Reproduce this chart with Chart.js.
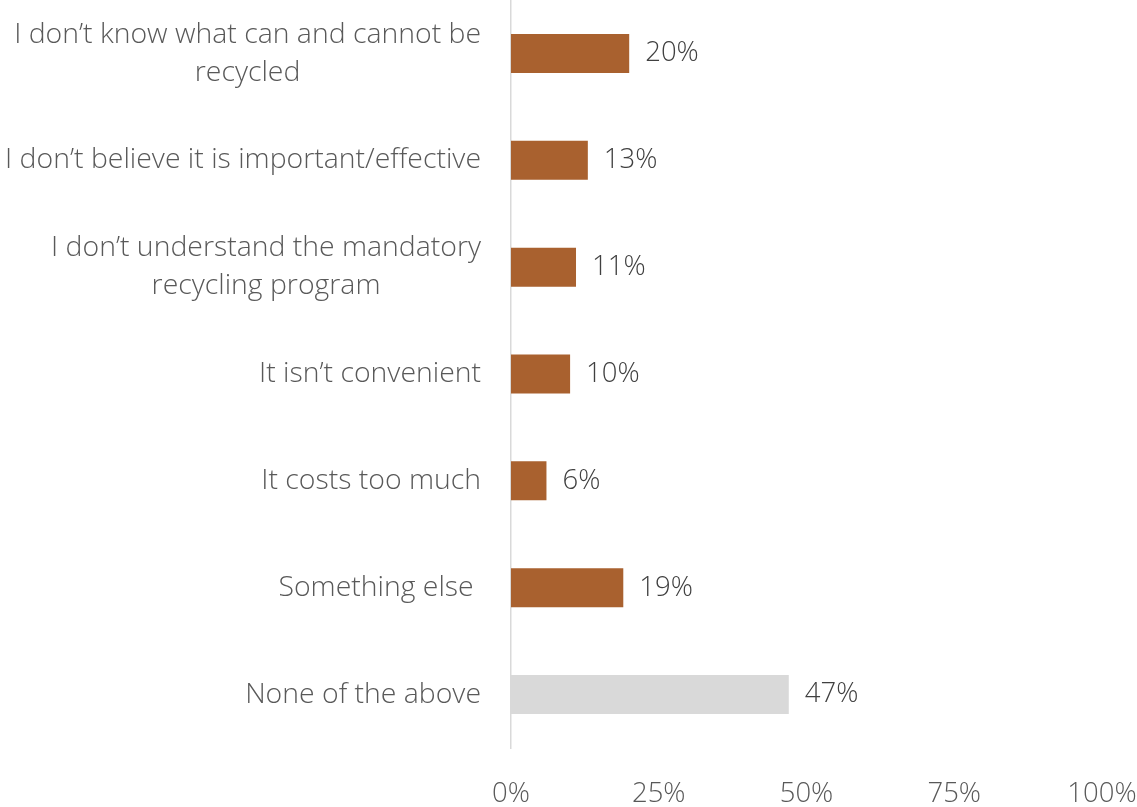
<!DOCTYPE html>
<html lang="en">
<head>
<meta charset="UTF-8">
<title>Reasons for not recycling</title>
<script src="https://cdn.jsdelivr.net/npm/chart.js"></script>
<style>
  html, body { margin: 0; padding: 0; background: #fff; }
  #wrap { width: 1137px; height: 807px; }
</style>
</head>
<body>
<div id="wrap"><canvas id="chart" width="1137" height="807"></canvas></div>
<script>
// chart data
const categories = [
  ['I don\u2019t know what can and cannot be', 'recycled'],
  ['I don\u2019t believe it is important/effective'],
  ['I don\u2019t understand the mandatory', 'recycling program'],
  ['It isn\u2019t convenient'],
  ['It costs too much'],
  ['Something else '],
  ['None of the above']
];
const percentValues = [20, 13, 11, 10, 6, 19, 47];
const barColors = ['#A9612F', '#A9612F', '#A9612F', '#A9612F', '#A9612F', '#A9612F', '#D9D9D9'];
const xTicks = [0, 25, 50, 75, 100];

const FONT = '"Open Sans", sans-serif';
const LABEL_SIZE = 28.4;
const NUM_SIZE = 27.5;
const TEXT_COLOR = '#595959';

// category labels, lines centred on each other like the original
const categoryLabels = {
  id: 'categoryLabels',
  afterDraw(chart) {
    const ctx = chart.ctx;
    const y = chart.scales.y;
    const rightEdge = chart.chartArea.left - 30;
    const lineH = 38;
    ctx.save();
    ctx.font = '300 ' + LABEL_SIZE + 'px ' + FONT;
    ctx.fillStyle = TEXT_COLOR;
    ctx.textBaseline = 'middle';
    ctx.textAlign = 'center';
    categories.forEach((lines, i) => {
      const maxW = Math.max(...lines.map(l => ctx.measureText(l).width));
      const cx = rightEdge - maxW / 2;
      const cy = y.getPixelForValue(i);
      const top = cy - (lines.length - 1) * lineH / 2;
      lines.forEach((l, k) => ctx.fillText(l, cx, top + k * lineH));
    });
    ctx.restore();
  }
};

// value labels to the right of the bars
const valueLabels = {
  id: 'valueLabels',
  afterDatasetsDraw(chart) {
    const ctx = chart.ctx;
    const meta = chart.getDatasetMeta(0);
    ctx.save();
    ctx.font = '300 ' + NUM_SIZE + 'px ' + FONT;
    ctx.fillStyle = '#404040';
    ctx.textBaseline = 'middle';
    ctx.textAlign = 'left';
    meta.data.forEach((bar, i) => {
      ctx.fillText(percentValues[i] + '%', bar.x + 16, bar.y);
    });
    ctx.restore();
  }
};

new Chart(document.getElementById('chart'), {
  type: 'bar',
  data: {
    labels: categories.map(c => c.join(' ')),
    datasets: [{
      data: percentValues,
      backgroundColor: barColors,
      borderWidth: 0,
      barPercentage: 0.365,
      categoryPercentage: 1
    }]
  },
  options: {
    indexAxis: 'y',
    responsive: false,
    animation: false,
    layout: { padding: { top: 0, right: 35, bottom: 0, left: 0 } },
    plugins: {
      legend: { display: false },
      tooltip: { enabled: false }
    },
    scales: {
      x: {
        min: 0,
        max: 100,
        afterBuildTicks: s => { s.ticks = xTicks.map(v => ({ value: v })); },
        grid: { display: false, drawTicks: false },
        border: { display: false },
        ticks: {
          padding: 30,
          color: TEXT_COLOR,
          font: { family: FONT, size: NUM_SIZE, weight: 300 },
          callback: v => v + '%'
        },
        afterFit: s => { s.height = 59; s.paddingLeft = 0; s.paddingRight = 0; }
      },
      y: {
        grid: { display: false, drawTicks: false },
        border: { display: true, color: '#D9D9D9', width: 1.5 },
        ticks: { display: false },
        afterFit: s => { s.width = 511; }
      }
    }
  },
  plugins: [categoryLabels, valueLabels]
});
</script>
</body>
</html>
